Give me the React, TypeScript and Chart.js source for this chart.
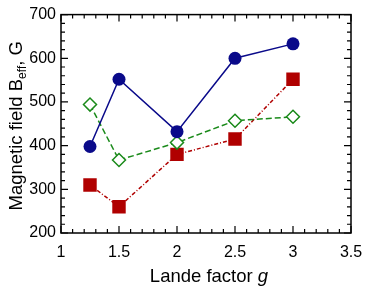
import React, { useEffect, useRef } from "react";
import { Chart, registerables } from "chart.js";
Chart.register(...registerables);

const gValues = [1.25, 1.5, 2, 2.5, 3];
const blueSeries = [398, 552, 432, 600, 633];
const redSeries = [310, 260, 380, 415, 552];
const greenSeries = [494, 367, 407, 457, 466];
const xTicks = [1, 1.5, 2, 2.5, 3, 3.5];
const yTicks = [200, 300, 400, 500, 600, 700];

const FONT = "'Liberation Sans', Arial, sans-serif";

const tickPlugin = {
  id: "inwardTicks",
  afterDraw(chart: any) {
    const ctx = chart.ctx;
    const { left, right, top, bottom } = chart.chartArea;
    const xs = chart.scales.x;
    const ys = chart.scales.y;
    ctx.save();
    ctx.strokeStyle = "#000";
    ctx.lineWidth = 1.5;
    ctx.strokeRect(left, top, right - left, bottom - top);
    ctx.lineWidth = 1.2;
    for (let i = 0; i <= 25; i++) {
      const v = 1 + i * 0.1;
      const px = xs.getPixelForValue(v);
      const major = i % 5 === 0;
      const len = major ? 7 : 4;
      ctx.beginPath();
      ctx.moveTo(px, bottom);
      ctx.lineTo(px, bottom - len);
      ctx.moveTo(px, top);
      ctx.lineTo(px, top + len);
      ctx.stroke();
    }
    for (let i = 0; i <= 25; i++) {
      const v = 200 + i * 20;
      const py = ys.getPixelForValue(v);
      const major = i % 5 === 0;
      const len = major ? 7 : 4;
      ctx.beginPath();
      ctx.moveTo(left, py);
      ctx.lineTo(left + len, py);
      ctx.moveTo(right, py);
      ctx.lineTo(right - len, py);
      ctx.stroke();
    }
    // x title
    ctx.fillStyle = "#000";
    ctx.textBaseline = "alphabetic";
    const f1 = `18.5px ${FONT}`;
    const f2 = `italic 18.5px ${FONT}`;
    ctx.font = f1;
    const t1 = "Lande factor ";
    const w1 = ctx.measureText(t1).width;
    ctx.font = f2;
    const w2 = ctx.measureText("g").width;
    const cx = (left + right) / 2 + 3;
    const sx = cx - (w1 + w2) / 2;
    ctx.font = f1;
    ctx.fillText(t1, sx, 282);
    ctx.font = f2;
    ctx.fillText("g", sx + w1, 282);
    // y title
    const cy = (top + bottom) / 2 + 2;
    ctx.translate(22, cy);
    ctx.rotate(-Math.PI / 2);
    const a = "Magnetic field B";
    const b = "eff";
    const c = ", G";
    const fs = `12px ${FONT}`;
    ctx.font = f1;
    const wa = ctx.measureText(a).width;
    const wc = ctx.measureText(c).width;
    ctx.font = fs;
    const wb = ctx.measureText(b).width;
    const x0 = -(wa + wb + wc) / 2;
    ctx.font = f1;
    ctx.fillText(a, x0, 0);
    ctx.font = fs;
    ctx.fillText(b, x0 + wa, 4);
    ctx.font = f1;
    ctx.fillText(c, x0 + wa + wb, 0);
    ctx.restore();
  },
};

export default function App() {
  const ref = useRef<HTMLCanvasElement>(null);
  useEffect(() => {
    document.body.style.margin = "0";
    const mk = (arr: number[]) => gValues.map((g, i) => ({ x: g, y: arr[i] }));
    const chart = new Chart(ref.current!, {
      type: "line",
      data: {
        datasets: [
          {
            data: mk(blueSeries),
            borderColor: "#0a0a8a",
            backgroundColor: "#0a0a8a",
            borderWidth: 1.5,
            pointStyle: "circle",
            pointRadius: 6.5,
            pointBorderWidth: 0,
          },
          {
            data: mk(greenSeries),
            borderColor: "#1a8a1a",
            backgroundColor: "#ffffff",
            borderWidth: 1.5,
            borderDash: [6, 3],
            pointStyle: "rectRot",
            pointRadius: 6.5,
            pointBorderWidth: 1.5,
          },
          {
            data: mk(redSeries),
            borderColor: "#b00000",
            backgroundColor: "#b00000",
            borderWidth: 1.5,
            borderDash: [4, 2, 1, 2],
            pointStyle: "rect",
            pointRadius: 9.5,
            pointBorderWidth: 0,
          },
        ],
      },
      options: {
        animation: false,
        responsive: false,
        layout: { padding: { top: 13, right: 15, left: 0, bottom: 0 } },
        plugins: { legend: { display: false }, tooltip: { enabled: false } },
        scales: {
          x: {
            type: "linear",
            min: 1,
            max: 3.5,
            afterBuildTicks: (s: any) => {
              s.ticks = xTicks.map((v) => ({ value: v }));
            },
            afterFit: (s: any) => {
              s.height = 60;
            },
            grid: { display: false },
            border: { display: false },
            ticks: {
              color: "#000",
              font: { family: FONT, size: 16 },
              padding: 2,
              maxRotation: 0,
              autoSkip: false,
              callback: (v: any) => String(Number(v)),
            },
          },
          y: {
            type: "linear",
            min: 200,
            max: 700,
            afterBuildTicks: (s: any) => {
              s.ticks = yTicks.map((v) => ({ value: v }));
            },
            afterFit: (s: any) => {
              s.width = 61;
            },
            grid: { display: false, drawTicks: false },
            border: { display: false },
            ticks: {
              color: "#000",
              font: { family: FONT, size: 16 },
              padding: 5,
              autoSkip: false,
              callback: (v: any) => String(Number(v)),
            },
          },
        },
      },
      plugins: [tickPlugin],
    } as any);
    return () => chart.destroy();
  }, []);
  return (
    <div style={{ width: 366, height: 293 }}>
      <canvas ref={ref} width={366} height={293} />
    </div>
  );
}
